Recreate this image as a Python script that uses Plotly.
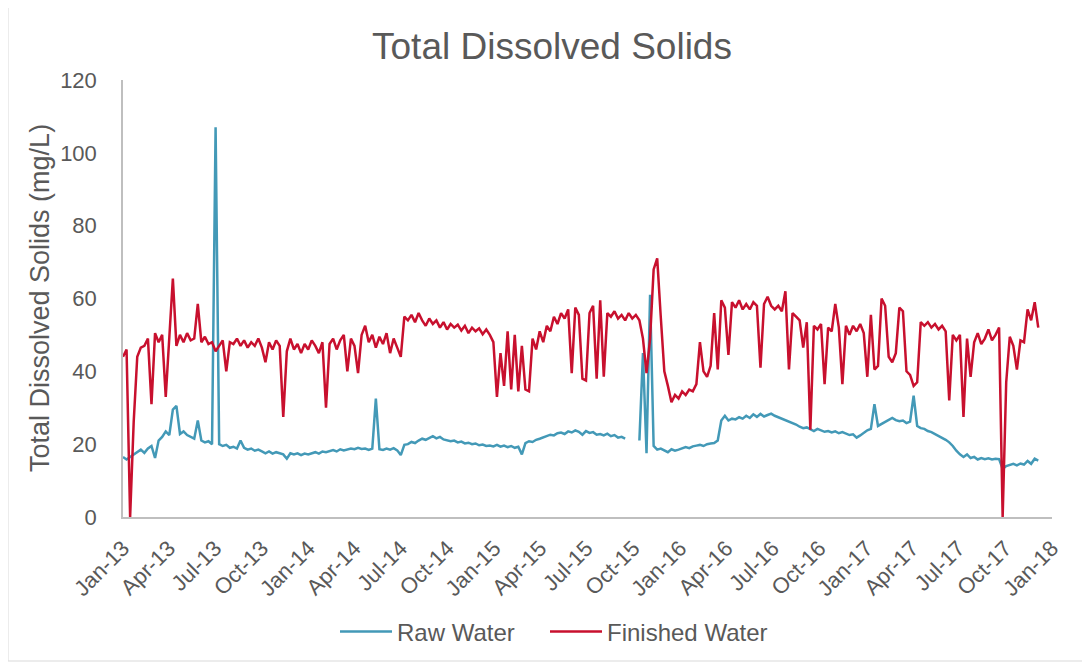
import pandas as pd
import plotly.graph_objects as go

# Weekly readings, starting 1 Jan 2013
start_date = "2013-01-01"

raw_2013 = [16.5, 15.8, 16.5, 17.2, 17.8, 18.5, 17.6, 18.8, 19.5, 16.2,
            21.0, 22.0, 23.5, 22.5, 29.5, 30.5, 22.8, 23.5, 22.5, 22.0,
            21.5, 26.5, 21.0, 20.5, 20.8, 20.0, 107.0, 20.0, 19.5, 19.8,
            19.0, 19.3, 18.8, 21.0, 19.0, 18.5, 18.8, 18.2, 18.5, 18.0,
            17.5, 18.0, 17.4, 17.8, 17.6, 17.2, 16.0, 17.5, 17.2, 17.5,
            17.0, 17.4]
raw_2014 = [17.2, 17.5, 17.8, 17.4, 18.0, 17.8, 18.2, 18.4, 18.0, 18.6,
            18.3, 18.5, 18.8, 18.6, 19.0, 18.7, 18.8, 18.4, 18.8, 32.5,
            18.6, 18.4, 18.8, 18.5, 18.9, 18.3, 17.0, 19.8, 20.0, 20.6,
            20.3, 21.0, 21.5, 21.2, 21.8, 22.2, 21.6, 22.0, 21.3, 21.1,
            20.8, 21.0, 20.5, 20.7, 20.2, 20.4, 20.0, 20.2, 19.7, 19.9,
            19.5, 19.6]
raw_2015 = [19.4, 19.8, 19.3, 19.6, 19.2, 19.5, 19.0, 19.3, 17.2, 20.3,
            20.8, 20.6, 21.2, 21.5, 21.8, 22.2, 22.6, 22.4, 23.0, 23.2,
            22.8, 23.5, 23.2, 23.8, 23.4, 22.6, 23.6, 23.1, 23.3, 22.6,
            22.8, 22.4, 22.9, 22.2, 22.5, 21.8, 22.0, 21.5, None, None,
            None, 21.0, 45.0, 17.5, 61.0, 19.5, 18.5, 18.8, 18.2, 17.8,
            18.6, 18.2]
raw_2016 = [18.5, 18.8, 19.2, 18.9, 19.4, 19.6, 19.8, 19.5, 20.0, 20.2,
            20.3, 21.0, 26.5, 27.8, 26.5, 27.0, 26.8, 27.4, 27.0, 27.8,
            27.2, 28.2, 27.5, 28.3, 27.6, 28.0, 28.4, 27.8, 27.4, 27.0,
            26.6, 26.2, 26.0, 25.4, 24.8, 24.4, 24.6, 24.0, 23.6, 24.2,
            23.8, 23.4, 23.6, 23.2, 23.5, 23.0, 23.3, 22.8, 22.5, 22.7,
            21.8, 22.4]
raw_2017 = [23.2, 23.8, 24.2, 31.0, 25.0, 25.6, 26.2, 26.8, 27.2, 26.6,
            26.3, 26.5, 25.8, 26.2, 33.3, 25.0, 24.4, 24.2, 23.6, 23.3,
            22.8, 22.2, 21.8, 21.2, 20.5, 19.5, 18.2, 17.2, 16.5, 17.2,
            16.2, 16.5, 15.8, 16.2, 15.9, 16.1, 15.8, 16.0, 15.9, 13.2,
            14.0, 14.3, 14.6, 14.2, 14.7, 14.4, 15.4, 14.6, 16.0, 15.5]

fin_2013 = [44.0, 46.0, 0.0, 26.0, 44.0, 46.5, 47.0, 49.0, 31.0, 50.5,
            48.0, 50.0, 33.0, 48.5, 65.5, 47.0, 50.0, 48.0, 50.5, 48.5,
            49.0, 58.5, 48.0, 49.5, 47.5, 48.0, 45.5, 47.0, 48.5, 40.0,
            48.0, 47.5, 49.0, 47.0, 48.5, 46.5, 48.0, 47.0, 49.0, 46.5,
            42.5, 48.0, 46.0, 48.5, 47.0, 27.5, 45.5, 49.0, 46.0, 47.5,
            45.0, 47.5]
fin_2014 = [46.0, 48.5, 47.0, 45.0, 48.0, 30.0, 47.5, 49.0, 46.0, 48.5,
            50.0, 40.0, 49.0, 47.0, 39.5, 50.0, 52.5, 48.0, 50.0, 46.5,
            49.5, 47.5, 50.5, 45.0, 49.0, 46.5, 44.0, 55.0, 54.0, 55.5,
            53.5, 56.0, 54.0, 52.5, 54.5, 53.0, 54.0, 52.0, 53.5, 51.5,
            53.0, 52.0, 52.8, 51.2, 52.5, 50.5, 52.0, 51.0, 51.8, 50.2,
            51.5, 50.0]
fin_2015 = [48.0, 33.0, 45.0, 36.0, 51.0, 35.0, 50.0, 34.5, 47.0, 35.0,
            34.5, 49.0, 46.0, 51.0, 48.0, 52.5, 51.0, 55.0, 53.0, 56.0,
            54.5, 57.0, 39.5, 57.5, 55.5, 38.0, 37.5, 56.0, 58.0, 38.0,
            59.5, 38.5, 56.0, 55.0, 56.5, 54.5, 55.5, 54.0, 56.0, 54.5,
            55.5, 54.0, 49.0, 39.5, 49.0, 68.0, 71.0, 55.0, 40.0, 36.0,
            31.5, 33.5]
fin_2016 = [32.5, 34.5, 33.5, 35.0, 34.5, 36.5, 48.0, 40.0, 38.5, 41.5,
            56.0, 40.5, 59.5, 57.5, 44.5, 59.0, 57.5, 59.5, 57.0, 58.5,
            57.0, 59.0, 58.0, 41.0, 58.5, 60.5, 58.0, 57.0, 58.0, 56.5,
            62.0, 40.5, 56.0, 55.0, 54.0, 46.5, 53.5, 24.0, 52.5, 51.5,
            53.0, 36.5, 52.0, 51.0, 58.5, 52.0, 36.5, 52.5, 50.0, 52.5,
            51.0, 53.0]
fin_2017 = [50.5, 38.5, 55.5, 40.5, 41.5, 60.0, 58.0, 44.0, 42.5, 45.0,
            57.5, 56.5, 40.0, 39.0, 36.0, 37.0, 53.5, 52.5, 53.5, 52.0,
            53.0, 51.5, 52.5, 51.0, 32.0, 50.0, 48.5, 50.0, 27.5, 49.0,
            38.5, 48.0, 50.5, 47.5, 49.0, 51.5, 48.5, 50.0, 52.0, 0.0,
            37.0, 49.5, 47.0, 40.5, 48.5, 48.0, 57.0, 54.0, 59.0, 52.0]

raw_water = raw_2013 + raw_2014 + raw_2015 + raw_2016 + raw_2017
finished_water = fin_2013 + fin_2014 + fin_2015 + fin_2016 + fin_2017
dates = pd.date_range(start_date, periods=len(raw_water), freq="7D")

y_ticks = [0, 20, 40, 60, 80, 100, 120]

RAW_COLOR = "#4399B7"
FIN_COLOR = "#C8102E"
TEXT = "#595959"
AXIS = "#BFBFBF"
FONT = "Liberation Sans, Arial, sans-serif"

fig = go.Figure()
fig.add_trace(go.Scatter(x=dates, y=raw_water, mode="lines", name="Raw Water",
                         line=dict(color=RAW_COLOR, width=2.5), connectgaps=False,
                         legend="legend"))
fig.add_trace(go.Scatter(x=dates, y=finished_water, mode="lines", name="Finished Water",
                         line=dict(color=FIN_COLOR, width=2.5), legend="legend2"))

# the page body adds an 8px offset; positions below are screen targets minus it
OFF = 8
W, H = 1090, 666
L, T = 123 - OFF, 80 - OFF
pw, ph = 929, 437
R = W - L - pw
B = H - T - ph

def px_x(x):
    return (x - OFF - L) / pw

def px_y(y):
    return (T + ph - (y - OFF)) / ph

legend_style = dict(orientation="h", xanchor="left", xref="container",
                    y=1 - (632 - OFF) / H, yanchor="middle", yref="container",
                    font=dict(size=24, color=TEXT, family=FONT),
                    itemwidth=52, bgcolor="rgba(0,0,0,0)")

fig.update_layout(
    width=W, height=H,
    margin=dict(l=L, r=R, t=T, b=B, autoexpand=False),
    paper_bgcolor="white", plot_bgcolor="white",
    font=dict(family=FONT, color=TEXT, size=22),
    title=dict(text="Total Dissolved Solids", x=(552 - OFF) / W, xanchor="center",
               y=1 - (46 - OFF) / H, yanchor="middle", yref="container",
               font=dict(size=37, color=TEXT, family=FONT)),
    showlegend=True,
    legend=dict(x=(335 - OFF) / W, **legend_style),
    legend2=dict(x=(545 - OFF) / W, **legend_style),
    xaxis=dict(type="date", range=["2013-01-01", "2018-01-01"],
               dtick="M3", tick0="2013-01-01", tickformat="%b-%y",
               tickangle=-45, showline=True, linecolor=AXIS, linewidth=1.5,
               showgrid=False, zeroline=False, ticks="", automargin=False,
               ticklabelstandoff=8,
               tickfont=dict(size=22, color=TEXT, family=FONT)),
    yaxis=dict(range=[0, 120], tickvals=y_ticks, showline=True, linecolor=AXIS,
               linewidth=1.5, showgrid=False, zeroline=False, ticks="",
               ticklabelstandoff=20, automargin=False,
               tickfont=dict(size=22, color=TEXT, family=FONT)),
    annotations=[dict(text="Total Dissolved Solids (mg/L)", xref="paper", yref="paper",
                      x=px_x(40), y=px_y(298), xanchor="center", yanchor="middle",
                      textangle=-90, showarrow=False,
                      font=dict(size=27, color=TEXT, family=FONT))],
    shapes=[dict(type="rect", xref="paper", yref="paper",
                 x0=px_x(8), x1=px_x(1085), y0=px_y(661), y1=px_y(5),
                 line=dict(color="#D9D9D9", width=1), fillcolor="rgba(0,0,0,0)",
                 layer="below")],
)

fig.write_html("out.html")
